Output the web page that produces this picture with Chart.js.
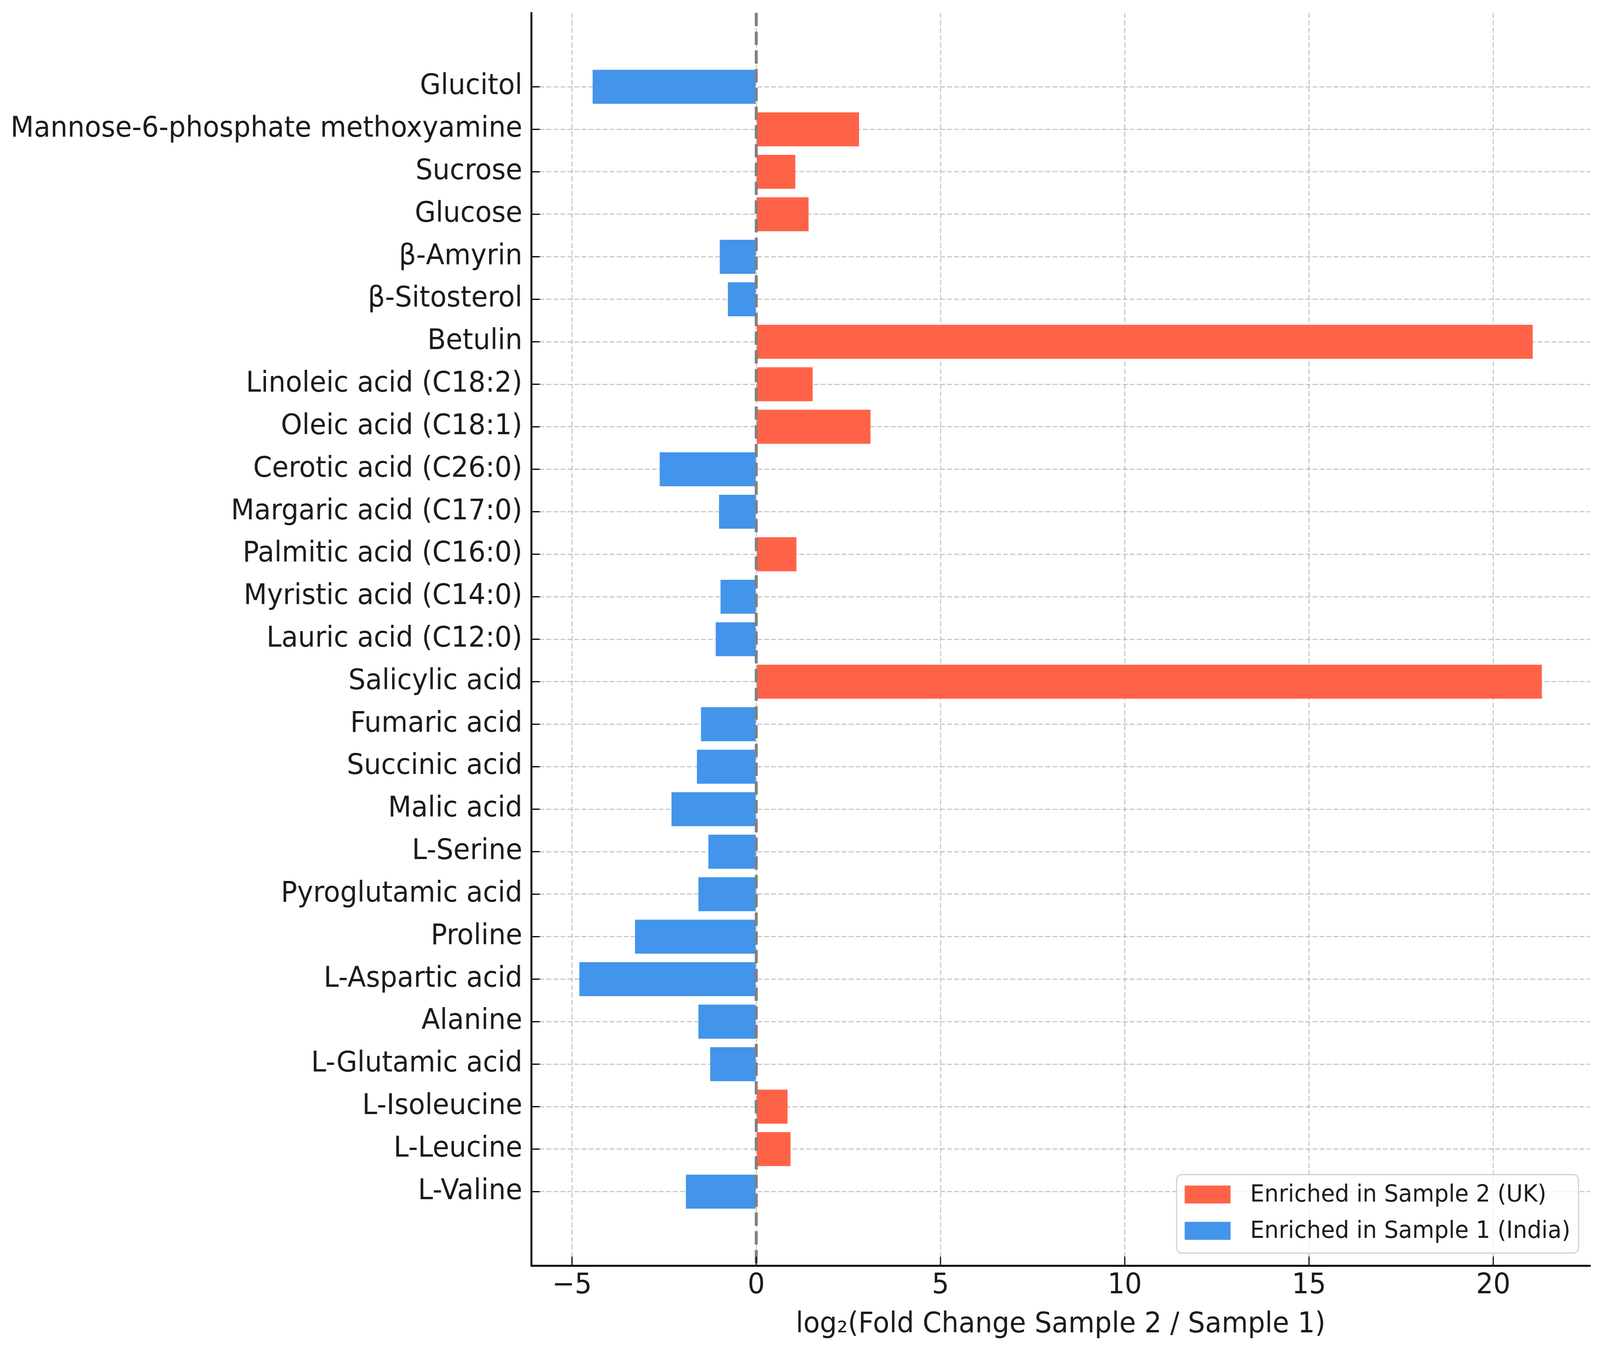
<!DOCTYPE html>
<html>
<head>
<meta charset="utf-8">
<script src="https://cdn.jsdelivr.net/npm/chart.js@4"></script>
<style>
  html, body { margin: 0; padding: 0; background: #fff; overflow: hidden; }
  #wrap { width: 4325px; height: 3470px; position: relative; transform-origin: 0 0; }
  canvas { display: block; }
</style>
</head>
<body>
<div id="wrap"><canvas id="myChart"></canvas></div>
<script>
// compounds, top to bottom
var compounds = [
  "Glucitol", "Mannose-6-phosphate methoxyamine", "Sucrose", "Glucose",
  "β-Amyrin", "β-Sitosterol", "Betulin", "Linoleic acid (C18:2)",
  "Oleic acid (C18:1)", "Cerotic acid (C26:0)", "Margaric acid (C17:0)",
  "Palmitic acid (C16:0)", "Myristic acid (C14:0)", "Lauric acid (C12:0)",
  "Salicylic acid", "Fumaric acid", "Succinic acid", "Malic acid",
  "L-Serine", "Pyroglutamic acid", "Proline", "L-Aspartic acid", "Alanine",
  "L-Glutamic acid", "L-Isoleucine", "L-Leucine", "L-Valine"
];

// log2 fold change (sample 2 / sample 1)
var log2fc = [
  -4.44, 2.79, 1.06, 1.42,
  -0.99, -0.77, 21.07, 1.53,
  3.10, -2.62, -1.01,
  1.09, -0.97, -1.10,
  21.32, -1.50, -1.61, -2.30,
  -1.30, -1.57, -3.29, -4.80, -1.57,
  -1.25, 0.85, 0.93, -1.91
];

var xTicks = [-5, 0, 5, 10, 15, 20];
var xMin = -6.106, xMax = 22.626;

var seriesNames = ["Enriched in Sample 2 (UK)", "Enriched in Sample 1 (India)"];
var seriesColors = ["#FF6347", "#4394EB"];

var FONT = "'DejaVu Sans', sans-serif";
var TEXT = "#1a1a1a";

// the window may be narrower than the 4325px figure: squeeze it to fit
var fit = Math.min(1, window.innerWidth / 4325);
if (fit < 1) document.getElementById('wrap').style.transform = 'scaleX(' + fit + ')';

function points(sign) {
  return compounds.map(function (c, i) { return { x: log2fc[i], y: i }; })
    .filter(function (p) { return sign > 0 ? p.x > 0 : p.x <= 0; });
}

// zero line, inward ticks and framed legend
var extras = {
  id: 'extras',
  afterDraw: function (chart) {
    var ctx = chart.ctx, x = chart.scales.x, y = chart.scales.y, a = chart.chartArea;
    ctx.save();

    // dashed zero line
    var zx = x.getPixelForValue(0);
    ctx.strokeStyle = "#808080";
    ctx.lineWidth = 8;
    ctx.setLineDash([34, 14]);
    ctx.beginPath();
    ctx.moveTo(zx, a.top);
    ctx.lineTo(zx, a.bottom);
    ctx.stroke();
    ctx.setLineDash([]);

    // inward tick marks
    ctx.strokeStyle = "#000";
    ctx.lineWidth = 3;
    ctx.beginPath();
    xTicks.forEach(function (v) {
      var px = x.getPixelForValue(v);
      ctx.moveTo(px, a.bottom);
      ctx.lineTo(px, a.bottom - 23);
    });
    compounds.forEach(function (c, i) {
      var py = y.getPixelForValue(i);
      ctx.moveTo(a.left, py);
      ctx.lineTo(a.left + 23, py);
    });
    ctx.stroke();

    // legend
    ctx.font = "61px " + FONT;
    var tw = 0;
    chart.data.datasets.forEach(function (d) { tw = Math.max(tw, ctx.measureText(d.label).width); });
    var w = 22 + 124 + 53 + tw + 22, h = 201;
    var lx = a.right - 31 - w, ly = a.bottom - 32 - h;
    ctx.beginPath();
    ctx.roundRect(lx, ly, w, h, 14);
    ctx.fillStyle = "rgba(255,255,255,0.8)";
    ctx.fill();
    ctx.strokeStyle = "#d0d0d0";
    ctx.lineWidth = 3;
    ctx.stroke();
    ctx.textBaseline = "middle";
    ctx.textAlign = "left";
    chart.data.datasets.forEach(function (d, k) {
      var cy = ly + 51 + k * 93;
      ctx.fillStyle = d.backgroundColor;
      ctx.fillRect(lx + 22, cy - 23, 124, 46);
      ctx.fillStyle = TEXT;
      ctx.fillText(d.label, lx + 199, cy + 2);
    });
    ctx.restore();
  }
};

var ctx = document.getElementById('myChart').getContext('2d');
var chart = new Chart(ctx, {
  type: 'bar',
  data: {
    datasets: [{
      label: seriesNames[0],
      backgroundColor: seriesColors[0],
      data: points(1)
    }, {
      label: seriesNames[1],
      backgroundColor: seriesColors[1],
      data: points(-1)
    }]
  },
  options: {
    indexAxis: 'y',
    responsive: true,
    maintainAspectRatio: false,
    devicePixelRatio: 1,
    animation: false,
    datasets: {
      bar: { grouped: false, categoryPercentage: 1.0, barPercentage: 0.8, borderWidth: 0 }
    },
    layout: { padding: { left: 0, right: 27, top: 33, bottom: 0 } },
    plugins: {
      legend: { display: false },
      tooltip: { enabled: false }
    },
    scales: {
      x: {
        type: 'linear',
        min: xMin,
        max: xMax,
        z: 1,
        afterBuildTicks: function (scale) {
          scale.ticks = xTicks.map(function (v) { return { value: v }; });
        },
        afterFit: function (scale) {
          scale.height = 229;
          scale.paddingLeft = 0;
          scale.paddingRight = 0;
        },
        grid: { color: "rgba(176,176,176,0.7)", lineWidth: 3, drawTicks: false },
        border: { display: true, color: "#000", width: 5, dash: [13, 6] },
        ticks: {
          autoSkip: false,
          maxRotation: 0,
          padding: 8,
          color: TEXT,
          font: { family: FONT, size: 73 },
          callback: function (v) { return v < 0 ? '\u2212' + Math.abs(v) : String(v); }
        },
        title: {
          display: true,
          text: 'log\u2082(Fold Change Sample 2 / Sample 1)',
          color: TEXT,
          font: { family: FONT, size: 73 },
          padding: { top: 0, bottom: 33 }
        }
      },
      y: {
        type: 'linear',
        reverse: true,
        offset: false,
        min: -1.74,
        max: compounds.length - 1 + 1.74,
        z: 1,
        afterBuildTicks: function (scale) {
          scale.ticks = compounds.map(function (c, i) { return { value: i }; });
        },
        afterFit: function (scale) {
          scale.width = 1436;
          scale.paddingTop = 0;
          scale.paddingBottom = 0;
        },
        grid: { offset: false, color: "rgba(176,176,176,0.7)", lineWidth: 3, drawTicks: false },
        border: { display: true, color: "#000", width: 5, dash: [13, 6] },
        ticks: {
          autoSkip: false,
          padding: 24,
          color: TEXT,
          font: { family: FONT, size: 73 },
          callback: function (v) { return compounds[v]; }
        }
      }
    }
  },
  plugins: [extras]
});
</script>
</body>
</html>
